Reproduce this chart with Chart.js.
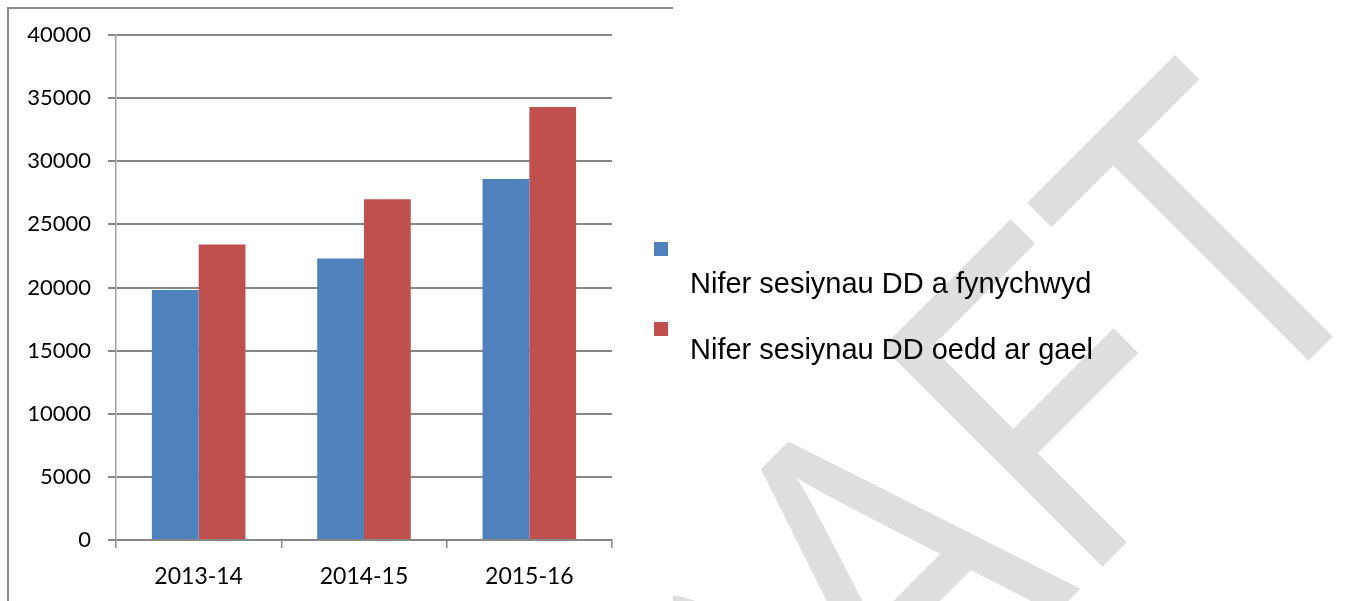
<!DOCTYPE html>
<html>
<head>
<meta charset="utf-8">
<title>Nifer sesiynau DD</title>
<script src="https://cdn.jsdelivr.net/npm/chart.js@4.4.1/dist/chart.umd.min.js"></script>
<style>
  html, body { margin: 0; padding: 0; background: #fff; width: 1349px; height: 601px; overflow: hidden; }
  #wm {
    position: absolute; left: 300px; top: 864px;
    font: 370px/370px "Liberation Sans", Arial, sans-serif;
    color: #dedede; white-space: nowrap;
    transform-origin: 0 48px; transform: rotate(-45deg) scaleY(1.22);
    z-index: 0;
  }
  #box {
    position: absolute; left: 7px; top: 7px; width: 664px; height: 600px;
    background: #fff; border-top: 2px solid #898989; border-left: 2px solid #898989;
    z-index: 1;
  }
  #wrap { position: absolute; left: 0; top: 0; width: 1349px; height: 601px; z-index: 2; }
  #legend { position: absolute; left: 0; top: 0; z-index: 3; font-family: "Liberation Sans", Arial, sans-serif; font-size: 29px; line-height: 29px; color: #000; }
  .sw { position: absolute; width: 14px; height: 14px; }
  .lt { position: absolute; white-space: nowrap; }
</style>
</head>
<body>
<div id="wm">DRAFT</div>
<div id="box"></div>
<div id="wrap"><canvas id="chart"></canvas></div>
<div id="legend"></div>
<script>
const categories = ["2013-14", "2014-15", "2015-16"];
const attended = [19800, 22300, 28600];
const available = [23400, 27000, 34300];
const seriesNames = ["Nifer sesiynau DD a fynychwyd", "Nifer sesiynau DD oedd ar gael"];
const seriesColors = ["#4F81BD", "#C0504D"];
const yTicks = [0, 5000, 10000, 15000, 20000, 25000, 30000, 35000, 40000];

const gridGrey = "#868686";

const ctx = document.getElementById("chart").getContext("2d");
const chart = new Chart(ctx, {
  type: "bar",
  data: {
    labels: categories,
    datasets: [
      { label: seriesNames[0], data: attended, backgroundColor: seriesColors[0] },
      { label: seriesNames[1], data: available, backgroundColor: seriesColors[1] }
    ]
  },
  options: {
    responsive: true,
    maintainAspectRatio: false,
    animation: false,
    datasets: { bar: { barPercentage: 1, categoryPercentage: 0.566, borderWidth: 0 } },
    layout: { padding: { left: 0, top: 35, right: 737, bottom: 0 } },
    plugins: { legend: { display: false }, tooltip: { enabled: false } },
    scales: {
      x: {
        grid: { drawOnChartArea: false, drawTicks: true, tickLength: 8, color: gridGrey, lineWidth: 1.5 },
        border: { color: gridGrey, width: 2 },
        ticks: { color: "#000", padding: 15, font: { family: "Lato", size: 23 } },
        afterFit: s => { s.height = 61; }
      },
      y: {
        min: yTicks[0],
        max: yTicks[yTicks.length - 1],
        afterBuildTicks: s => { s.ticks = yTicks.map(v => ({ value: v })); },
        grid: { color: gridGrey, lineWidth: 2, tickLength: 8 },
        border: { color: "#a0a0a0", width: 1.5 },
        ticks: { color: "#000", padding: 17, font: { family: "Lato", size: 22 }, callback: v => String(v) },
        afterFit: s => { s.width = 116; }
      }
    }
  }
});

// legend: square on its own line, label below it
const legend = document.getElementById("legend");
chart.data.datasets.forEach((ds, i) => {
  legend.insertAdjacentHTML("beforeend",
    `<div class="sw" style="left:654px;top:${242 + i * 80}px;background:${ds.backgroundColor}"></div>` +
    `<div class="lt" style="left:690px;top:${269 + i * 66}px">${ds.label}</div>`);
});
</script>
</body>
</html>
